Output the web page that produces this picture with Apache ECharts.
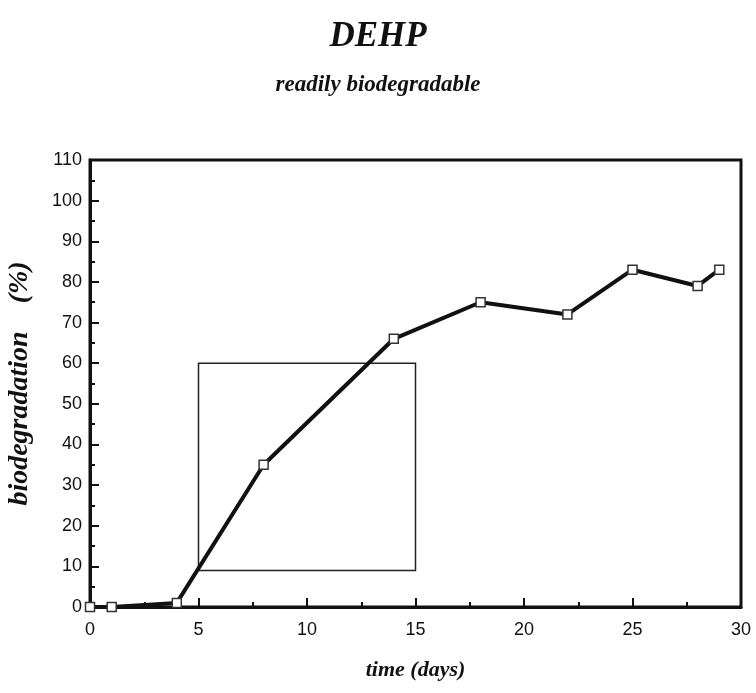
<!DOCTYPE html>
<html>
<head>
<meta charset="utf-8">
<script src="https://cdn.jsdelivr.net/npm/echarts@6/dist/echarts.min.js"></script>
<style>
  html, body { margin: 0; padding: 0; background: #fff; }
</style>
</head>
<body>
<div id="myChart" style="width:756px;height:693px;"></div>
<script>
// data
var days = [0, 1, 4, 8, 14, 18, 22, 25, 28, 29];
var biodeg = [0, 0, 1, 35, 66, 75, 72, 83, 79, 83];
// the rectangle drawn inside the plot (x from/to, y from/to)
var boxX = [5, 15];
var boxY = [9, 60];

var serif = '"Liberation Serif", "DejaVu Serif", serif';

var myChart = echarts.init(document.getElementById('myChart'));

myChart.setOption({
    animation: false,
    title: {
        text: 'DEHP',
        subtext: 'readily biodegradable',
        left: 'center',
        top: 14,
        itemGap: 20,
        textStyle: {
            fontFamily: serif,
            fontStyle: 'italic',
            fontWeight: 'bold',
            fontSize: 35,
            color: '#111'
        },
        subtextStyle: {
            fontFamily: serif,
            fontStyle: 'italic',
            fontWeight: 'bold',
            fontSize: 23,
            color: '#111'
        }
    },
    grid: {
        left: 90,
        right: 15,
        top: 160,
        bottom: 86,
        containLabel: false,
        outerBoundsMode: 'none',
        show: true,
        borderColor: '#111',
        borderWidth: 3
    },
    xAxis: {
        type: 'value',
        min: 0,
        max: 30,
        interval: 5,
        name: 'time (days)',
        nameLocation: 'middle',
        nameGap: 52,
        nameTextStyle: {
            fontFamily: serif,
            fontStyle: 'italic',
            fontWeight: 'bold',
            fontSize: 22,
            color: '#111'
        },
        axisLine: { show: true, lineStyle: { color: '#111', width: 3 } },
        axisTick: { show: true, inside: true, length: 9, lineStyle: { color: '#111', width: 2 } },
        minorTick: { show: true, splitNumber: 2, length: 5, lineStyle: { color: '#111', width: 2 } },
        splitLine: { show: false },
        axisLabel: {
            margin: 14,
            fontFamily: '"Liberation Sans", Arial, sans-serif',
            fontSize: 18,
            color: '#111'
        }
    },
    yAxis: {
        type: 'value',
        min: 0,
        max: 110,
        interval: 10,
        name: 'biodegradation    (%)',
        nameLocation: 'middle',
        nameGap: 56,
        nameTextStyle: {
            fontFamily: serif,
            fontStyle: 'italic',
            fontWeight: 'bold',
            fontSize: 28,
            color: '#111'
        },
        axisLine: { show: true, lineStyle: { color: '#111', width: 3 } },
        axisTick: { show: true, inside: true, length: 9, lineStyle: { color: '#111', width: 2 } },
        minorTick: { show: true, splitNumber: 2, length: 5, lineStyle: { color: '#111', width: 2 } },
        splitLine: { show: false },
        axisLabel: {
            margin: 8,
            fontFamily: '"Liberation Sans", Arial, sans-serif',
            fontSize: 18,
            color: '#111'
        }
    },
    series: [
        {
            name: 'DEHP',
            type: 'line',
            data: days.map(function (d, i) { return [d, biodeg[i]]; }),
            symbol: 'rect',
            symbolSize: 9,
            showAllSymbol: true,
            lineStyle: { color: '#111', width: 4 },
            itemStyle: { color: '#fff', borderColor: '#333', borderWidth: 1.5 },
            z: 3,
            markArea: {
                silent: true,
                itemStyle: {
                    color: 'rgba(0,0,0,0)',
                    borderColor: '#222',
                    borderWidth: 1.5
                },
                data: [[
                    { coord: [boxX[0], boxY[1]] },
                    { coord: [boxX[1], boxY[0]] }
                ]]
            }
        }
    ]
});
</script>
</body>
</html>
